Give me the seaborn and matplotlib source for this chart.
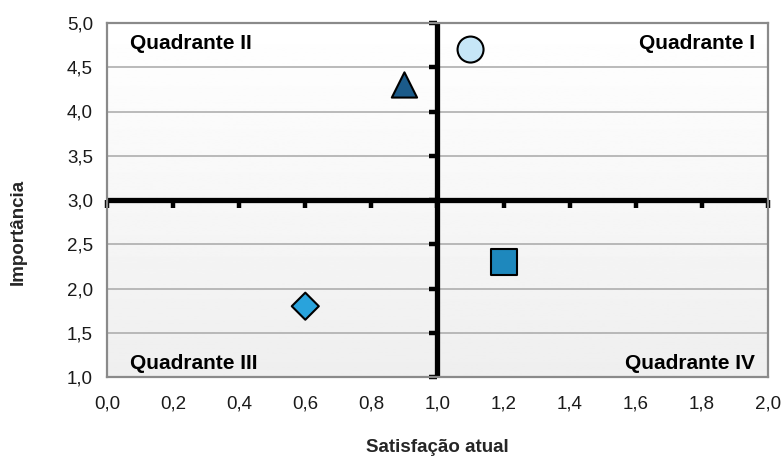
import numpy as np
import pandas as pd
import matplotlib
matplotlib.use("Agg")
import matplotlib.pyplot as plt
import seaborn as sns

# ---- data ----
categories = ["A", "B", "C", "D"]
satisfacao = [1.1, 0.9, 1.2, 0.6]
importancia = [4.7, 4.3, 2.3, 1.8]
colors = ["#c6e6f7", "#1b5b8a", "#1e88bd", "#29a3dc"]
marker_shapes = ["o", "^", "s", "D"]
marker_sizes = [350, 330, 350, 190]

x_ticks = [0.0, 0.2, 0.4, 0.6, 0.8, 1.0, 1.2, 1.4, 1.6, 1.8, 2.0]
y_ticks = [1.0, 1.5, 2.0, 2.5, 3.0, 3.5, 4.0, 4.5, 5.0]
x_tick_labels = ["0,0", "0,2", "0,4", "0,6", "0,8", "1,0", "1,2", "1,4", "1,6", "1,8", "2,0"]
y_tick_labels = ["1,0", "1,5", "2,0", "2,5", "3,0", "3,5", "4,0", "4,5", "5,0"]
quadrant_labels = ["Quadrante I", "Quadrante II", "Quadrante III", "Quadrante IV"]

df = pd.DataFrame({"cat": categories, "x": satisfacao, "y": importancia})

sns.set_theme(style="white")
plt.rcParams["font.family"] = ["Liberation Sans", "DejaVu Sans"]

fig = plt.figure(figsize=(7.82, 4.59), dpi=100)
ax = fig.add_axes([107 / 782, 1 - 377 / 459, (768 - 107) / 782, (377 - 23) / 459])

ax.set_xlim(0, 2)
ax.set_ylim(1, 5)

# background gradient (light gray at bottom, white at top)
grad = np.linspace(0.935, 1.0, 256).reshape(-1, 1)
ax.imshow(grad, extent=[0, 2, 1, 5], aspect="auto", cmap="gray", vmin=0, vmax=1,
          zorder=0, origin="lower")

# horizontal grid
for yv in y_ticks:
    ax.axhline(yv, color="#a8a8a8", lw=1.1, zorder=1)

# thick quadrant axes
ax.axhline(3.0, color="black", lw=3.8, zorder=2, solid_capstyle="round")
ax.axvline(1.0, color="black", lw=3.8, zorder=2, solid_capstyle="round")
ax.plot(x_ticks, [3.0] * len(x_ticks), ls="none", marker=3, ms=6, mew=3.2,
        color="black", zorder=2, clip_on=False)
ax.plot([1.0] * len(y_ticks), y_ticks, ls="none", marker=0, ms=6, mew=3.2,
        color="black", zorder=2, clip_on=False)

# points
sns.scatterplot(data=df, x="x", y="y", hue="cat", style="cat", size="cat",
                palette=dict(zip(categories, colors)),
                markers=dict(zip(categories, marker_shapes)),
                sizes=dict(zip(categories, marker_sizes)),
                edgecolor="black", linewidth=1.5, legend=False, zorder=5, ax=ax)

# quadrant labels
qkw = dict(fontsize=15, fontweight="bold", color="black", va="center", zorder=6)
ax.text(1.96, 4.77, quadrant_labels[0], ha="right", **qkw)
ax.text(0.07, 4.77, quadrant_labels[1], ha="left", **qkw)
ax.text(0.07, 1.15, quadrant_labels[2], ha="left", **qkw)
ax.text(1.96, 1.15, quadrant_labels[3], ha="right", **qkw)

ax.set_xticks(x_ticks)
ax.set_xticklabels(x_tick_labels)
ax.set_yticks(y_ticks)
ax.set_yticklabels(y_tick_labels)
ax.tick_params(axis="both", length=0, labelsize=13.5, colors="#1a1a1a")
ax.tick_params(axis="x", pad=13)
ax.tick_params(axis="y", pad=10)

for s in ax.spines.values():
    s.set_visible(True)
    s.set_color("#8a8a8a")
    s.set_linewidth(1.6)

ax.set_xlabel("Satisfação atual", fontsize=13.5, fontweight="bold")
ax.xaxis.label.set_va("center")
ax.xaxis.set_label_coords(0.5, (377 - 448) / 354)
ax.set_ylabel("Importância", fontsize=13.5, fontweight="bold")
ax.yaxis.label.set_va("center")
ax.yaxis.set_label_coords((18 - 107) / 661, (377 - 232) / 354)

fig.savefig("out.png", dpi=100)
